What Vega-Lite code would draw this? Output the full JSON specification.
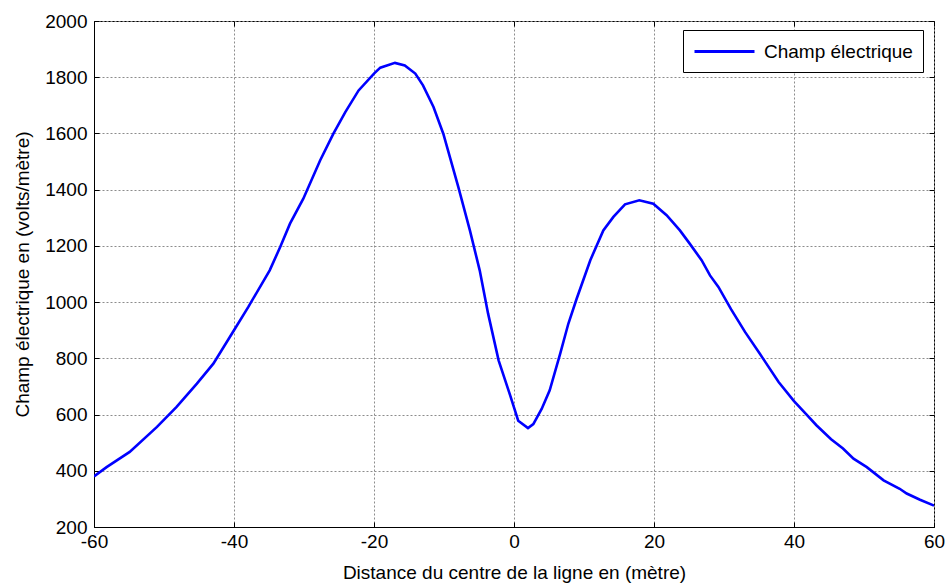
{
  "$schema": "https://vega.github.io/schema/vega-lite/v6.json",
  "autosize": {"type": "none"},
  "width": 840,
  "height": 506,
  "padding": {"left": 94, "top": 21, "right": 13, "bottom": 57},
  "background": "white",
  "config": {
    "font": "Liberation Sans",
    "view": {"stroke": "#000", "strokeWidth": 1},
    "axis": {
      "labelFont": "Liberation Sans",
      "titleFont": "Liberation Sans",
      "labelFontSize": 19,
      "titleFontSize": 19,
      "titleFontWeight": "normal",
      "labelColor": "#000",
      "titleColor": "#000",
      "domainColor": "#000",
      "tickColor": "#000",
      "gridColor": "#8c8c8c",
      "gridDash": [2, 2],
      "gridWidth": 1
    }
  },
  "data": {
    "values": [
      {"x": -60, "y": 380, "serie": "Champ électrique"},
      {"x": -58.2, "y": 413, "serie": "Champ électrique"},
      {"x": -54.9, "y": 467, "serie": "Champ électrique"},
      {"x": -51, "y": 556, "serie": "Champ électrique"},
      {"x": -48.2, "y": 627, "serie": "Champ électrique"},
      {"x": -45.3, "y": 710, "serie": "Champ électrique"},
      {"x": -42.95, "y": 781, "serie": "Champ électrique"},
      {"x": -40, "y": 900, "serie": "Champ électrique"},
      {"x": -37.95, "y": 983, "serie": "Champ électrique"},
      {"x": -34.9, "y": 1113, "serie": "Champ électrique"},
      {"x": -33.4, "y": 1196, "serie": "Champ électrique"},
      {"x": -32, "y": 1279, "serie": "Champ électrique"},
      {"x": -30.1, "y": 1368, "serie": "Champ électrique"},
      {"x": -27.7, "y": 1504, "serie": "Champ électrique"},
      {"x": -25.8, "y": 1599, "serie": "Champ électrique"},
      {"x": -24.1, "y": 1676, "serie": "Champ électrique"},
      {"x": -22.2, "y": 1753, "serie": "Champ électrique"},
      {"x": -20, "y": 1813, "serie": "Champ électrique"},
      {"x": -19.1, "y": 1834, "serie": "Champ électrique"},
      {"x": -17, "y": 1851, "serie": "Champ électrique"},
      {"x": -15.6, "y": 1842, "serie": "Champ électrique"},
      {"x": -14.1, "y": 1813, "serie": "Champ électrique"},
      {"x": -13, "y": 1771, "serie": "Champ électrique"},
      {"x": -11.5, "y": 1694, "serie": "Champ électrique"},
      {"x": -10.1, "y": 1599, "serie": "Champ électrique"},
      {"x": -7.95, "y": 1409, "serie": "Champ électrique"},
      {"x": -6.3, "y": 1255, "serie": "Champ électrique"},
      {"x": -4.9, "y": 1113, "serie": "Champ électrique"},
      {"x": -3.7, "y": 959, "serie": "Champ électrique"},
      {"x": -2.2, "y": 793, "serie": "Champ électrique"},
      {"x": -0.57, "y": 670, "serie": "Champ électrique"},
      {"x": 0.6, "y": 578, "serie": "Champ électrique"},
      {"x": 2, "y": 552, "serie": "Champ électrique"},
      {"x": 2.76, "y": 566, "serie": "Champ électrique"},
      {"x": 3.95, "y": 620, "serie": "Champ électrique"},
      {"x": 5.1, "y": 686, "serie": "Champ électrique"},
      {"x": 6.6, "y": 817, "serie": "Champ électrique"},
      {"x": 7.76, "y": 923, "serie": "Champ électrique"},
      {"x": 8.95, "y": 1012, "serie": "Champ électrique"},
      {"x": 10.9, "y": 1149, "serie": "Champ électrique"},
      {"x": 12.76, "y": 1255, "serie": "Champ électrique"},
      {"x": 14.2, "y": 1303, "serie": "Champ électrique"},
      {"x": 15.86, "y": 1348, "serie": "Champ électrique"},
      {"x": 17.9, "y": 1362, "serie": "Champ électrique"},
      {"x": 19.9, "y": 1350, "serie": "Champ électrique"},
      {"x": 21.8, "y": 1309, "serie": "Champ électrique"},
      {"x": 23.7, "y": 1255, "serie": "Champ électrique"},
      {"x": 25.1, "y": 1208, "serie": "Champ électrique"},
      {"x": 26.8, "y": 1149, "serie": "Champ électrique"},
      {"x": 28, "y": 1095, "serie": "Champ électrique"},
      {"x": 29.2, "y": 1054, "serie": "Champ électrique"},
      {"x": 31, "y": 975, "serie": "Champ électrique"},
      {"x": 33, "y": 894, "serie": "Champ électrique"},
      {"x": 35.1, "y": 817, "serie": "Champ électrique"},
      {"x": 37.8, "y": 716, "serie": "Champ électrique"},
      {"x": 40, "y": 648, "serie": "Champ électrique"},
      {"x": 41.8, "y": 600, "serie": "Champ électrique"},
      {"x": 43.2, "y": 562, "serie": "Champ électrique"},
      {"x": 45.3, "y": 512, "serie": "Champ électrique"},
      {"x": 47, "y": 479, "serie": "Champ électrique"},
      {"x": 48.5, "y": 443, "serie": "Champ électrique"},
      {"x": 50.4, "y": 413, "serie": "Champ électrique"},
      {"x": 52.8, "y": 366, "serie": "Champ électrique"},
      {"x": 55.1, "y": 336, "serie": "Champ électrique"},
      {"x": 56.1, "y": 319, "serie": "Champ électrique"},
      {"x": 58, "y": 297, "serie": "Champ électrique"},
      {"x": 60, "y": 276, "serie": "Champ électrique"}
    ]
  },
  "layer": [
    {
      "mark": {"type": "line", "strokeWidth": 2.6, "clip": true},
      "encoding": {
        "x": {
          "field": "x", "type": "quantitative",
          "scale": {"domain": [-60, 60], "nice": false, "zero": false},
          "axis": {
            "values": [-60, -40, -20, 0, 20, 40, 60],
            "labelExpr": "'' + datum.value",
            "title": "Distance du centre de la ligne en (mètre)",
            "tickSize": -5,
            "labelPadding": 10,
            "titleY": 51,
            "titleBaseline": "alphabetic",
            "labelFlush": false
          }
        },
        "y": {
          "field": "y", "type": "quantitative",
          "scale": {"domain": [200, 2000], "nice": false, "zero": false},
          "axis": {
            "values": [200, 400, 600, 800, 1000, 1200, 1400, 1600, 1800, 2000],
            "labelExpr": "'' + datum.value",
            "title": "Champ électrique en (volts/mètre)",
            "tickSize": -5,
            "labelPadding": 12,
            "titleX": -66,
            "titleBaseline": "alphabetic",
            "labelFlush": false
          }
        },
        "color": {
          "field": "serie", "type": "nominal",
          "scale": {"domain": ["Champ électrique"], "range": ["#0000ff"]},
          "legend": {
            "title": null,
            "orient": "none",
            "legendX": 589,
            "legendY": 9,
            "direction": "vertical",
            "strokeColor": "#000",
            "fillColor": "#fff",
            "padding": 10,
            "symbolType": "M-1,0H5",
            "symbolSize": 400,
            "symbolStrokeWidth": 3,
            "labelFont": "Liberation Sans",
            "labelFontSize": 19,
            "labelColor": "#000",
            "labelOffset": 48,
            "labelLimit": 400
          }
        }
      }
    },
    {
      "mark": {"type": "line", "opacity": 0},
      "encoding": {
        "x": {
          "field": "x", "type": "quantitative",
          "axis": {"orient": "top", "values": [-60, -40, -20, 0, 20, 40, 60], "labels": false, "title": null, "grid": false, "domain": false, "tickSize": -5}
        },
        "y": {
          "field": "y", "type": "quantitative",
          "axis": {"orient": "right", "values": [200, 400, 600, 800, 1000, 1200, 1400, 1600, 1800, 2000], "labels": false, "title": null, "grid": false, "domain": false, "tickSize": -5}
        }
      }
    }
  ],
  "resolve": {"axis": {"x": "independent", "y": "independent"}}
}
